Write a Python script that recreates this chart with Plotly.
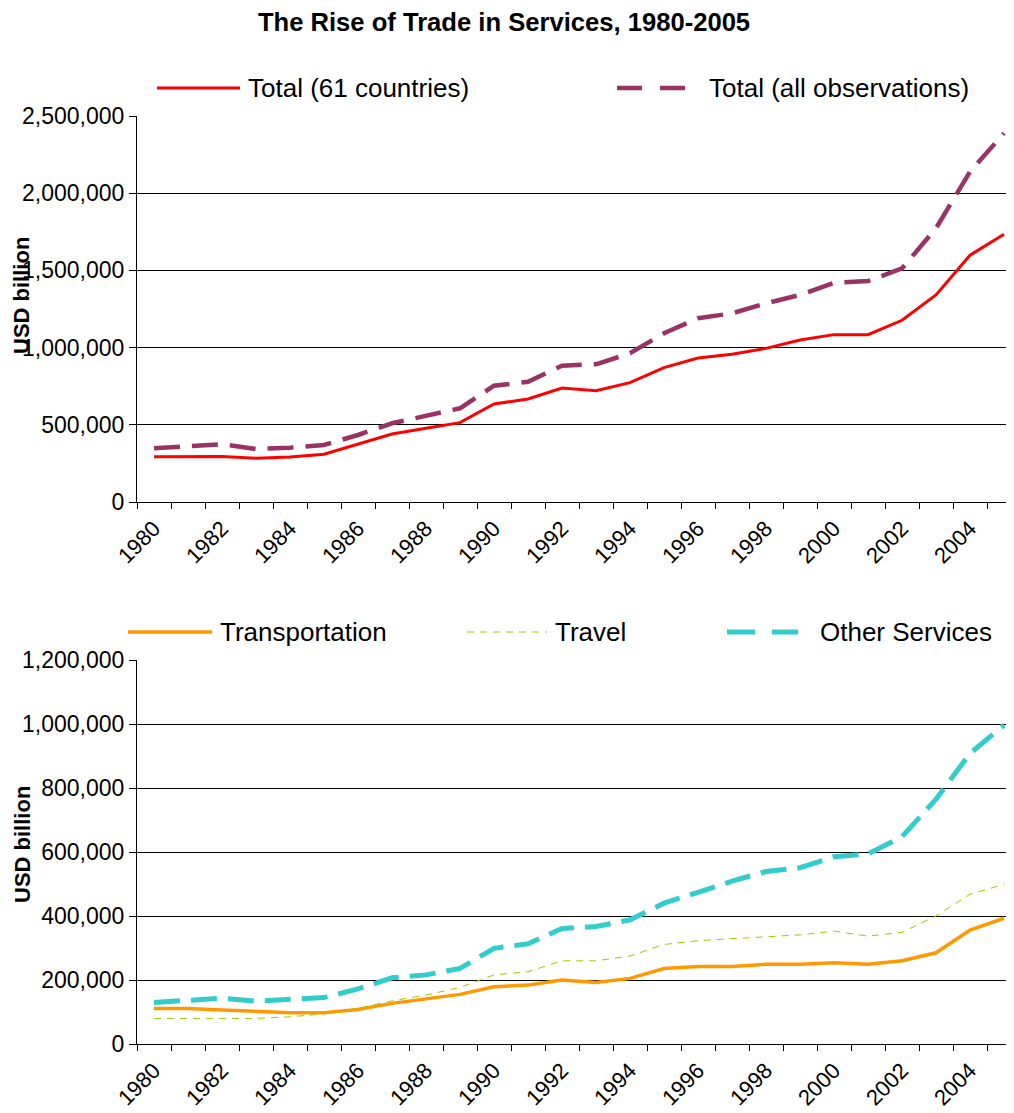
import plotly.graph_objects as go
from plotly.subplots import make_subplots

# ── data (USD billion, as labelled in the source) ─────────────────────────
years = list(range(1980, 2006))

total_61 = [293000, 295000, 295000, 283000, 292000, 309000, 374000, 440000, 477000, 514000,
            635000, 667000, 738000, 721000, 773000, 870000, 933000, 957000, 995000, 1049000,
            1084000, 1084000, 1177000, 1341000, 1598000, 1734000]
total_all = [348000, 358000, 374000, 343000, 352000, 369000, 434000, 510000, 559000, 607000,
             753000, 779000, 883000, 892000, 963000, 1093000, 1190000, 1222000, 1287000, 1341000,
             1420000, 1431000, 1513000, 1773000, 2139000, 2388000]

transport = [111000, 111000, 106000, 101000, 98000, 98000, 108000, 127000, 140000, 155000,
             179000, 184000, 200000, 192000, 205000, 236000, 242000, 242000, 249000, 249000,
             254000, 249000, 260000, 285000, 356000, 393000]
travel = [80000, 80000, 80000, 80000, 85000, 94000, 111000, 135000, 153000, 177000,
          216000, 226000, 260000, 260000, 275000, 311000, 323000, 329000, 335000, 341000,
          353000, 337000, 349000, 400000, 468000, 499000]
other = [130000, 135000, 143000, 134000, 141000, 145000, 172000, 207000, 216000, 236000,
         299000, 313000, 361000, 367000, 388000, 440000, 474000, 509000, 539000, 551000,
         585000, 594000, 648000, 765000, 908000, 997000]

tick_years = list(range(1980, 2006, 2))

# ── styling ───────────────────────────────────────────────────────────────
FONT = "Arial, Liberation Sans, sans-serif"
PAGE_OFF = 8                      # default <body> margin of the html page
W, H = 1014 - PAGE_OFF, 1113 - PAGE_OFF
PLOT_LEFT = 137                   # page pixel of the y axis line
L = PLOT_LEFT - PAGE_OFF
COLORS = {
    "total_61":  "#FF0000",
    "total_all": "#993366",
    "transport": "#FF9900",
    "travel":    "#99CC00",
    "other":     "#33CCCC",
}
STYLE = {
    "total_61":  dict(width=3, dash="solid"),
    "total_all": dict(width=4.5, dash="26px,12px"),
    "transport": dict(width=3.5, dash="solid"),
    "travel":    dict(width=1, dash="7px,6px"),
    "other":     dict(width=5, dash="26px,11px"),
}


def px_x(px):
    """page pixel -> paper x"""
    return (px - PAGE_OFF - L) / (W - L)


def px_y(py):
    """page pixel -> paper y"""
    return 1 - (py - PAGE_OFF) / H


fig = make_subplots(rows=2, cols=1)

series = [
    (1, "Total (61 countries)", total_61, "total_61"),
    (1, "Total (all observations)", total_all, "total_all"),
    (2, "Transportation", transport, "transport"),
    (2, "Travel", travel, "travel"),
    (2, "Other Services", other, "other"),
]
for row, name, vals, key in series:
    fig.add_trace(go.Scatter(
        x=years, y=vals, name=name, mode="lines",
        line=dict(color=COLORS[key], **STYLE[key]),
        showlegend=False,
    ), row=row, col=1)

xaxis_style = dict(
    range=[1979.5, 1979.5 + (W - L) / 34.0],
    tickmode="array", tickvals=tick_years, ticktext=[str(y) for y in tick_years],
    tickangle=-45, ticks="", showgrid=False, zeroline=False, automargin=False,
    showline=True, linecolor="black", linewidth=1, ticklabelstandoff=4,
    tickfont=dict(size=22, color="black", family=FONT),
    minor=dict(tickmode="linear", tick0=1979.5, dtick=1, ticks="outside",
               ticklen=6, tickcolor="black", tickwidth=1, showgrid=False),
)
yaxis_style = dict(
    tickformat=",d", showgrid=True, gridcolor="black", gridwidth=1,
    zeroline=False, showline=True, linecolor="black", linewidth=1, automargin=False,
    ticks="outside", ticklen=7, tickcolor="black",
    tickfont=dict(size=23, color="black", family=FONT),
)

fig.update_xaxes(**xaxis_style)
fig.update_yaxes(**yaxis_style)
fig.update_layout(
    xaxis=dict(domain=[0, 1]),
    xaxis2=dict(domain=[0, 1]),
    yaxis=dict(domain=[px_y(502), px_y(116)], range=[0, 2500000], dtick=500000),
    yaxis2=dict(domain=[px_y(1044), px_y(660)], range=[0, 1200000], dtick=200000),
)

# ── legends drawn as swatch + text rows above each panel ──────────────────
legend_rows = [
    (88, [("total_61", "Total (61 countries)", 157, 240, 246),
          ("total_all", "Total (all observations)", 617, 686, 707)]),
    (632, [("transport", "Transportation", 128, 212, 218),
           ("travel", "Travel", 467, 547, 553),
           ("other", "Other Services", 727, 798, 818)]),
]
legend_dash = {"total_all": "25px,18px", "other": "28px,17px", "travel": "7px,6px"}
shapes, annotations = [], []
for py, items in legend_rows:
    for key, label, x0, x1, xt in items:
        st = STYLE[key]
        shapes.append(dict(
            type="line", xref="paper", yref="paper",
            x0=px_x(x0), x1=px_x(x1), y0=px_y(py), y1=px_y(py),
            line=dict(color=COLORS[key], width=st["width"],
                      dash=legend_dash.get(key, "solid")),
        ))
        annotations.append(dict(
            text=label, xref="paper", yref="paper", x=px_x(xt), y=px_y(py),
            xanchor="left", yanchor="middle", showarrow=False,
            font=dict(size=26, color="black", family=FONT),
        ))

# y-axis titles
for py in (296, 845):
    annotations.append(dict(
        text="<b>USD billion</b>", xref="paper", yref="paper",
        x=px_x(22), y=px_y(py), xanchor="center", yanchor="middle",
        textangle=-90, showarrow=False,
        font=dict(size=22, color="black", family=FONT),
    ))

fig.update_layout(
    width=W, height=H,
    margin=dict(l=L, r=0, t=0, b=0),
    paper_bgcolor="white", plot_bgcolor="white",
    font=dict(family=FONT, color="black"),
    title=dict(
        text="<b>The Rise of Trade in Services, 1980-2005</b>",
        x=(504 - PAGE_OFF) / W, xanchor="center", xref="container",
        y=1 - (22 - PAGE_OFF) / H, yanchor="middle", yref="container",
        font=dict(size=25.6, color="black", family=FONT),
    ),
    shapes=shapes,
    annotations=annotations,
    showlegend=False,
)

fig.write_html("out.html")
